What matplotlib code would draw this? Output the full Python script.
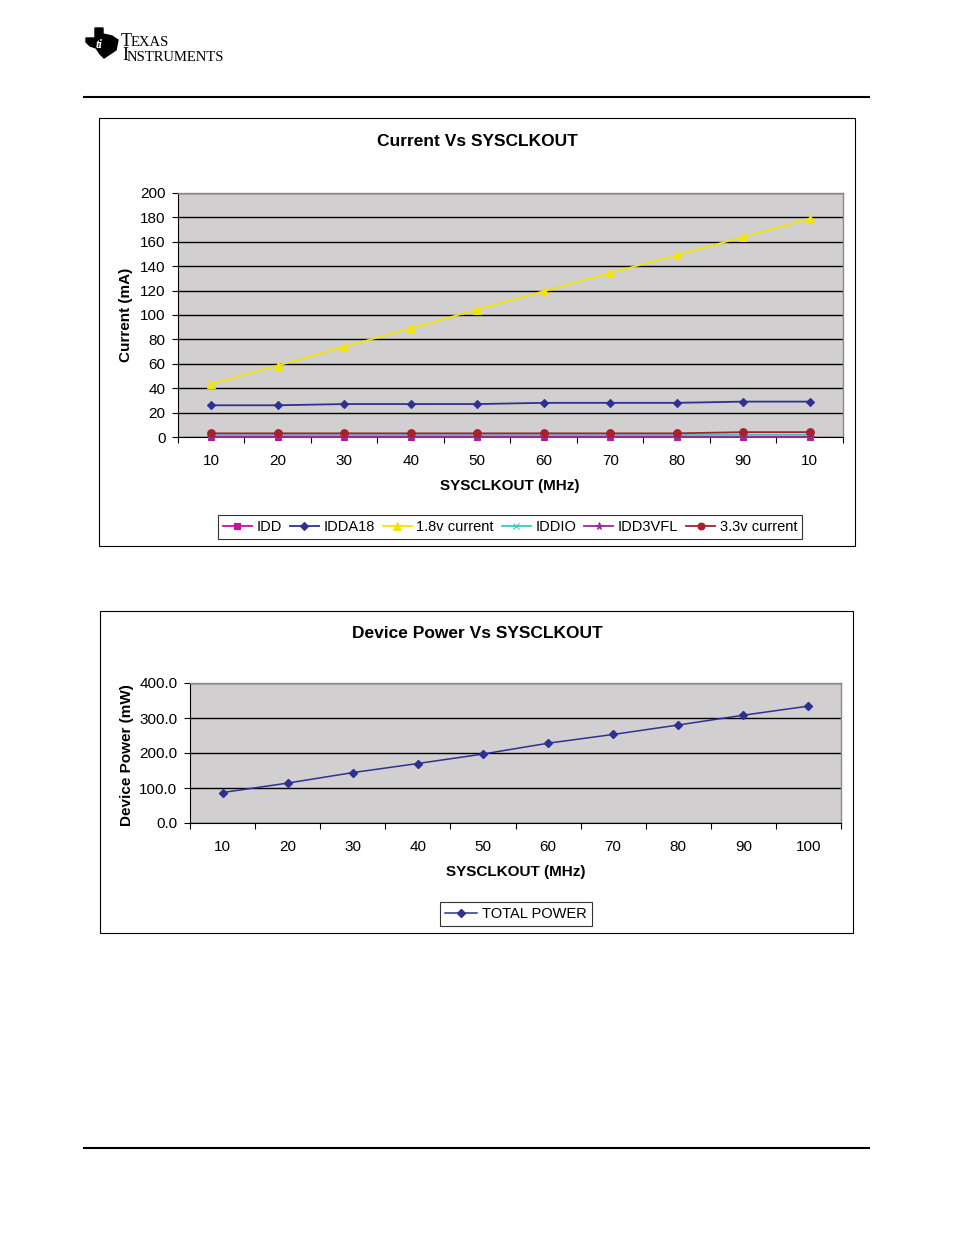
import numpy as np
import matplotlib.pyplot as plt
from matplotlib.patches import Rectangle, Polygon

plt.rcParams['font.family'] = ['Liberation Sans', 'DejaVu Sans']

W, H = 954, 1235

# --- data ---
freq = [10, 20, 30, 40, 50, 60, 70, 80, 90, 100]
freq_labels_top = ['10', '20', '30', '40', '50', '60', '70', '80', '90', '10']
freq_labels_bot = ['10', '20', '30', '40', '50', '60', '70', '80', '90', '100']

idd = [0.3, 0.3, 0.3, 0.3, 0.3, 0.3, 0.3, 0.3, 0.3, 0.3]
idda18 = [26, 26, 27, 27, 27, 28, 28, 28, 29, 29]
cur_18v = [43.5, 58.5, 74, 89, 104.5, 119.5, 134.5, 149, 164, 179]
iddio = [1.5, 1.5, 1.5, 1.5, 1.5, 1.5, 1.5, 1.5, 1.8, 1.8]
idd3vfl = [0.1, 0.1, 0.1, 0.1, 0.1, 0.1, 0.1, 0.1, 0.1, 0.1]
cur_33v = [3, 3, 3, 3, 3, 3, 3, 3, 4, 4]

total_power = [87, 114, 144, 170, 197, 228, 253, 280, 308, 334]

series_names = ['IDD', 'IDDA18', '1.8v current', 'IDDIO', 'IDD3VFL', '3.3v current']
series_vals = [idd, idda18, cur_18v, iddio, idd3vfl, cur_33v]
series_colors = ['#C8109A', '#2E3192', '#F2E600', '#3CC8C0', '#9A2A9A', '#A8202E']
series_markers = ['s', 'D', '^', 'x', '*', 'o']
series_msize = [5, 4.5, 6, 5, 6, 5.5]

PLOT_BG = '#D1CFCF'
BORDER = '#8A8A8A'


def frac(x0, y0, x1, y1):
    return [x0 / W, 1 - y1 / H, (x1 - x0) / W, (y1 - y0) / H]


fig = plt.figure(figsize=(W / 100, H / 100), dpi=100)

# decoration layer in pixel coordinates
deco = fig.add_axes([0, 0, 1, 1])
deco.set_xlim(0, W)
deco.set_ylim(H, 0)
deco.axis('off')

# header / footer rules
deco.plot([84, 869], [97, 97], color='black', lw=1.5)
deco.plot([84, 869], [1148, 1148], color='black', lw=1.5)

# rough logo mark
logo = [(86, 38), (95, 38), (95, 28), (103, 28), (103, 34), (112, 36), (118, 40),
        (116, 50), (110, 54), (104, 58), (100, 54), (96, 48), (90, 46), (86, 42)]
deco.add_patch(Polygon(logo, closed=True, color='black'))
deco.text(99, 45, 'ti', color='white', fontsize=9, fontweight='bold',
          fontstyle='italic', ha='center', va='center', family='Liberation Serif')
deco.text(121, 41, 'T', fontsize=13, family='Liberation Serif', va='center')
deco.text(131, 42.5, 'EXAS', fontsize=10.5, family='Liberation Serif', va='center')
deco.text(122, 56, 'I', fontsize=13, family='Liberation Serif', va='center')
deco.text(127, 57.5, 'NSTRUMENTS', fontsize=10.5, family='Liberation Serif', va='center')

# chart frames
deco.add_patch(Rectangle((99, 118), 756, 428, fill=False, ec='black', lw=0.8))
deco.add_patch(Rectangle((100, 611), 753, 322, fill=False, ec='black', lw=0.8))

# titles and axis labels
deco.text(477, 142, 'Current Vs SYSCLKOUT', ha='center', va='center',
          fontsize=12.5, fontweight='bold')
deco.text(126, 315, 'Current (mA)', ha='center', va='center', rotation=90,
          fontsize=11, fontweight='bold')
deco.text(510, 486, 'SYSCLKOUT (MHz)', ha='center', va='center',
          fontsize=11, fontweight='bold')

deco.text(477, 634, 'Device Power Vs SYSCLKOUT', ha='center', va='center',
          fontsize=12.5, fontweight='bold')
deco.text(127, 755, 'Device Power (mW)', ha='center', va='center', rotation=90,
          fontsize=11, fontweight='bold')
deco.text(516, 872, 'SYSCLKOUT (MHz)', ha='center', va='center',
          fontsize=11, fontweight='bold')


def style_axes(ax, ymax, ystep, fmt):
    pos = np.arange(1, len(freq) + 1)
    ax.set_facecolor(PLOT_BG)
    ax.set_xlim(0.5, len(freq) + 0.5)
    ax.set_ylim(0, ymax)
    ax.set_yticks(np.arange(0, ymax + 0.1, ystep))
    ax.set_yticklabels([fmt.format(v) for v in np.arange(0, ymax + 0.1, ystep)])
    ax.set_xticks(pos)
    ax.set_xticks(np.arange(0.5, len(freq) + 1), minor=True)
    ax.tick_params(axis='x', which='major', length=0, pad=12, labelsize=11)
    ax.tick_params(axis='x', which='minor', length=4, width=0.8, direction='out')
    ax.tick_params(axis='y', length=4, width=0.8, direction='out', pad=5, labelsize=11)
    ax.yaxis.grid(True, color='black', lw=1)
    ax.set_axisbelow(True)
    for s in ('top', 'right'):
        ax.spines[s].set_color(BORDER)
        ax.spines[s].set_linewidth(1)
    for s in ('left', 'bottom'):
        ax.spines[s].set_color('black')
        ax.spines[s].set_linewidth(0.8)
    return pos


# --- top chart ---
ax1 = fig.add_axes(frac(178, 193, 843, 437))
pos = style_axes(ax1, 200, 20, '{:.0f}')
ax1.set_xticklabels(freq_labels_top)
handles = []
for name, vals, col, mk, ms in zip(series_names, series_vals, series_colors,
                                   series_markers, series_msize):
    h, = ax1.plot(pos, vals, color=col, marker=mk, markersize=ms, lw=1.3,
                  markeredgewidth=0.8, label=name, clip_on=False, zorder=3)
    handles.append(h)
fig.legend(handles=handles, loc='center', ncol=6,
           bbox_to_anchor=(510 / W, 1 - 527 / H), frameon=True, fancybox=False,
           edgecolor='black', fontsize=10.5, handlelength=2.0, handletextpad=0.3,
           columnspacing=0.55, borderpad=0.35, markerscale=0.9).get_frame().set_linewidth(0.8)

# --- bottom chart ---
ax2 = fig.add_axes(frac(190, 683, 841, 823))
pos = style_axes(ax2, 400, 100, '{:.1f}')
ax2.set_xticklabels(freq_labels_bot)
h2, = ax2.plot(pos, total_power, color='#2E3192', marker='D', markersize=4.5,
               lw=1.1, label='TOTAL POWER', zorder=3)
fig.legend(handles=[h2], loc='center', bbox_to_anchor=(516 / W, 1 - 914 / H),
           frameon=True, fancybox=False, edgecolor='black', fontsize=10.5,
           handlelength=2.2, handletextpad=0.3,
           borderpad=0.35).get_frame().set_linewidth(0.8)

fig.savefig('out.png', dpi=100)
